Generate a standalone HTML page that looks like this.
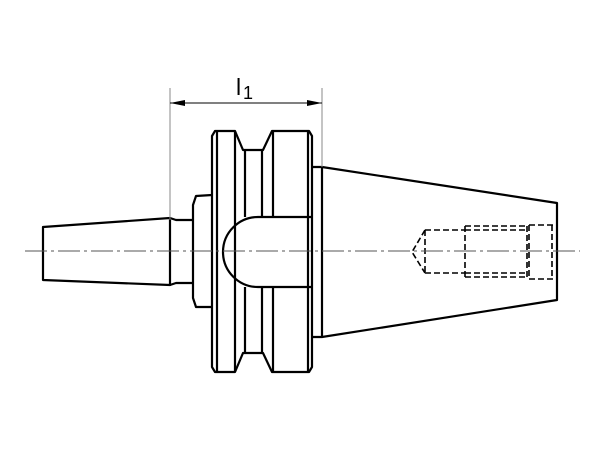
<!DOCTYPE html>
<html><head><style>body{margin:0;background:#fff}svg{display:block}</style></head><body>
<svg width="600" height="450" viewBox="0 0 600 450" xmlns="http://www.w3.org/2000/svg">
<g fill="none" stroke="#000" stroke-width="2.2" stroke-linejoin="round">
<path d="M43,227 L170,218 L170,285 L43,280 Z"/>
<path d="M170,218 L176,220 L193,220 M170,285 L176,283 L193,283"/>
<path d="M212,195 L196,196 L193,205 L193,298 L196,307 L212,307"/>
<path d="M215,131 L235,131 L243,150 L263,150 L272,131 L309,131 L312,136 L312,367 L309,372 L272,372 L263,353 L243,353 L235,372 L215,372 L212,367 L212,136 Z"/>
<path d="M217,131 L217,372 M235,131 L235,372 M245,150 L245,217 M245,287 L245,353 M262,150 L262,217 M262,287 L262,353 M273,131 L273,217 M273,287 L273,372 M308,131 L308,372"/>
<path d="M312,217 L258,217 A35,35 0 0 0 258,287 L312,287"/>
<path d="M312,167 L322,167 L322,337 L312,337"/>
<path d="M322,167 L557,203 L557,300 L322,337"/>
</g>
<g fill="none" stroke="#000" stroke-width="1.6" stroke-dasharray="6,3">
<path d="M425,230 L412,252 L425,273"/>
<path d="M425,230 L465,230 M425,273 L465,273 M425,230 L425,273"/>
<path d="M465,226 L527,226 M465,230 L527,230 M465,273 L527,273 M465,277 L527,277 M465,226 L465,277 M527,226 L527,277"/>
<path d="M529,225 L555,225 M529,279 L555,279 M529,225 L529,279 M552,225 L552,279"/>
</g>
<line x1="25" y1="251" x2="580" y2="251" stroke="#555" stroke-width="1" stroke-dasharray="22,4,3,4"/>
<g stroke="#888" stroke-width="1">
<line x1="170" y1="88" x2="170" y2="220"/>
<line x1="322" y1="88" x2="322" y2="167"/>
<line x1="170" y1="103" x2="322" y2="103" stroke="#000"/>
</g>
<path d="M170,103 L185,100 L185,106 Z M322,103 L307,100 L307,106 Z" fill="#000"/>
<text x="236" y="95" font-family="Liberation Sans, sans-serif" font-size="23" fill="#000">l</text>
<text x="243" y="99" font-family="Liberation Sans, sans-serif" font-size="18" fill="#000">1</text>
</svg>
</body></html>
